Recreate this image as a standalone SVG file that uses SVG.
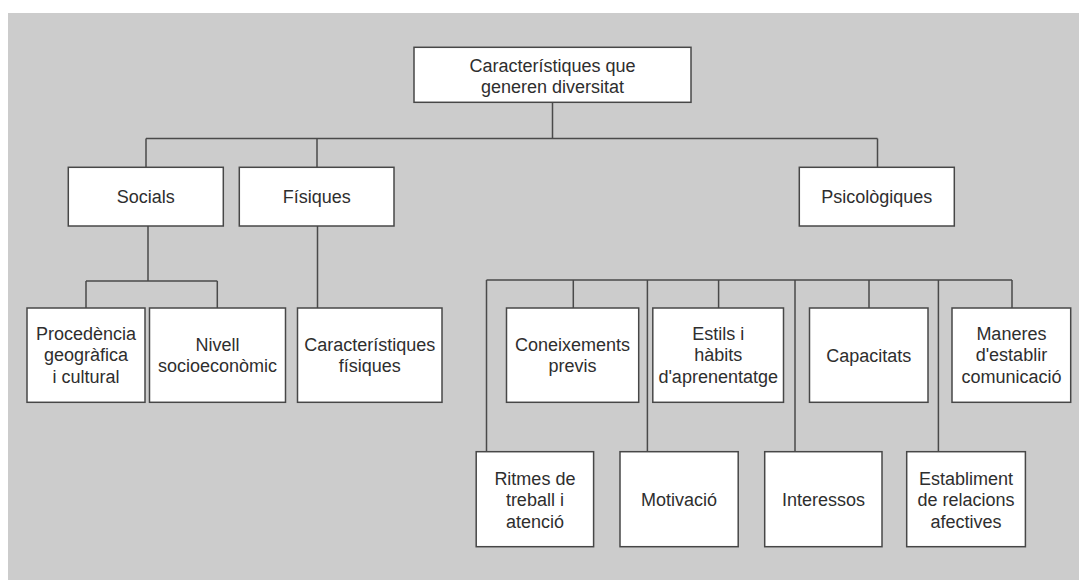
<svg xmlns="http://www.w3.org/2000/svg" width="1079" height="580" viewBox="0 0 1079 580">
<style>
.box{fill:#ffffff;stroke:#474747;stroke-width:1.5}
.lbl{font-family:"Liberation Sans",Arial,Helvetica,sans-serif;font-size:18px;fill:#2e2e2e;text-anchor:middle}
.con{fill:none;stroke:#4a4a4a;stroke-width:1.5}
</style>
<rect x="0" y="0" width="1079" height="580" fill="#ffffff"/>
<rect x="8" y="13" width="1071" height="567" fill="#cccccc"/>
<g id="connectors" class="con">
<path d="M552.5,102 V138.5 M146,138.5 H877.5 M146,138.5 V167.3 M317,138.5 V167.3 M877.5,138.5 V167.3"/>
<path d="M148,226 V281 M86,281 H217.3 M86,281 V308 M217.3,281 V308"/>
<path d="M317.5,226 V308"/>
<path d="M486.5,280 H1012 M486.5,280 V451.7 M573.3,280 V308 M647.4,280 V451.7 M718.6,280 V308 M795,280 V451.7 M869,280 V308 M938.4,280 V451.7 M1012,280 V308"/>
</g>
<g id="root"><rect class="box" x="414" y="47.3" width="277" height="55"/><text class="lbl" x="552.5" y="71.5"><tspan x="552.5">Característiques que</tspan><tspan x="552.5" dy="21.5">generen diversitat</tspan></text></g>
<g id="socials"><rect class="box" x="68.3" y="167.3" width="155" height="58.7"/><text class="lbl" x="145.8" y="203">Socials</text></g>
<g id="fisiques"><rect class="box" x="239.3" y="167.3" width="154.7" height="58.7"/><text class="lbl" x="316.7" y="203">Físiques</text></g>
<g id="psicologiques"><rect class="box" x="799.3" y="167.3" width="155" height="58.7"/><text class="lbl" x="876.8" y="203">Psicològiques</text></g>
<g id="procedencia"><rect class="box" x="27" y="308" width="118" height="94.3"/><text class="lbl" y="339.5"><tspan x="86">Procedència</tspan><tspan x="86" dy="21.5">geogràfica</tspan><tspan x="86" dy="21.5">i cultural</tspan></text></g>
<g id="nivell"><rect class="box" x="149.5" y="308" width="136" height="94.3"/><text class="lbl" y="350.8"><tspan x="217.5">Nivell</tspan><tspan x="217.5" dy="21.5">socioeconòmic</tspan></text></g>
<g id="caracteristiques-fisiques"><rect class="box" x="297.5" y="308" width="144.5" height="94.3"/><text class="lbl" y="350.8"><tspan x="369.8">Característiques</tspan><tspan x="369.8" dy="21.5">físiques</tspan></text></g>
<g id="coneixements"><rect class="box" x="506.5" y="308" width="132.2" height="94.3"/><text class="lbl" y="350.8"><tspan x="572.6">Coneixements</tspan><tspan x="572.6" dy="21.5">previs</tspan></text></g>
<g id="estils"><rect class="box" x="652.8" y="308" width="130.7" height="94.3"/><text class="lbl" y="339.5"><tspan x="718.2">Estils i</tspan><tspan x="718.2" dy="21.5">hàbits</tspan><tspan x="718.2" dy="21.5">d'aprenentatge</tspan></text></g>
<g id="capacitats"><rect class="box" x="809.5" y="308" width="118.5" height="94.3"/><text class="lbl" x="868.8" y="361.5">Capacitats</text></g>
<g id="maneres"><rect class="box" x="952" y="308" width="118.7" height="94.3"/><text class="lbl" y="339.5"><tspan x="1011.4">Maneres</tspan><tspan x="1011.4" dy="21.5">d'establir</tspan><tspan x="1011.4" dy="21.5">comunicació</tspan></text></g>
<g id="ritmes"><rect class="box" x="476.2" y="451.7" width="117.4" height="95"/><text class="lbl" y="484.5"><tspan x="534.9">Ritmes de</tspan><tspan x="534.9" dy="21.5">treball i</tspan><tspan x="534.9" dy="21.5">atenció</tspan></text></g>
<g id="motivacio"><rect class="box" x="620" y="451.7" width="118.2" height="95"/><text class="lbl" x="679.1" y="505.7">Motivació</text></g>
<g id="interessos"><rect class="box" x="764.7" y="451.7" width="117.3" height="95"/><text class="lbl" x="823.4" y="505.7">Interessos</text></g>
<g id="establiment"><rect class="box" x="906.7" y="451.7" width="118.7" height="95"/><text class="lbl" y="484.5"><tspan x="966">Establiment</tspan><tspan x="966" dy="21.5">de relacions</tspan><tspan x="966" dy="21.5">afectives</tspan></text></g>
</svg>
